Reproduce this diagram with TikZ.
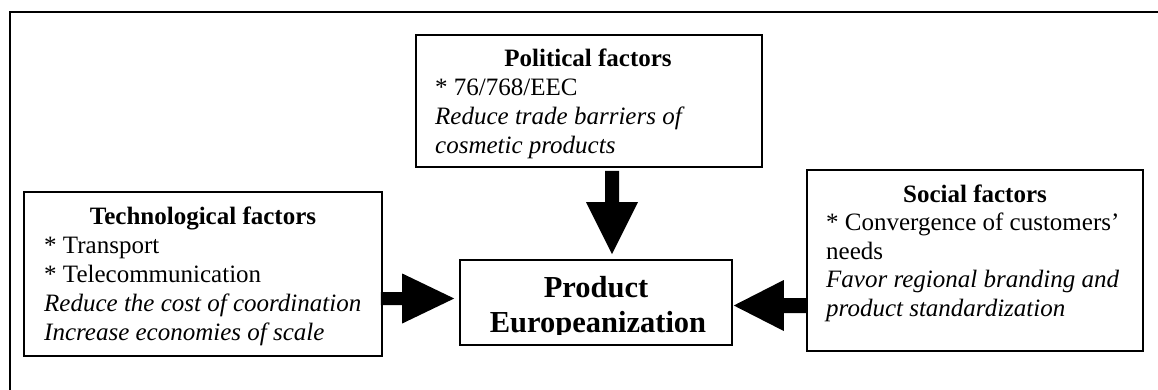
\documentclass[tikz,border=0pt]{standalone}
\usepackage{fontspec}
\setmainfont{Liberation Serif}
\usetikzlibrary{calc}

% Block arrow: #1 tail, #2 tip, #3 shaft half width, #4 head half width, #5 head length
\newcommand\fatarrow[5]{%
  \coordinate (fa-t) at (#1);
  \coordinate (fa-h) at (#2);
  \coordinate (fa-b) at ($(fa-h)!#5!(fa-t)$);
  \fill ($(fa-t)!#3!90:(fa-h)$) -- ($(fa-b)!#3!-90:(fa-t)$) -- ($(fa-b)!#4!-90:(fa-t)$)
    -- (fa-h) -- ($(fa-b)!#4!90:(fa-t)$) -- ($(fa-b)!#3!90:(fa-t)$)
    -- ($(fa-t)!#3!-90:(fa-h)$) -- cycle;
}

\tikzset{
  box/.style={draw, line width=1.6pt, rectangle, inner sep=0pt},
  body/.style={inner sep=0pt, anchor=base west, font=\fontsize{25}{29}\selectfont},
  head/.style={inner sep=0pt, anchor=base, font=\fontsize{25}{29}\selectfont\bfseries},
  big/.style={inner sep=0pt, anchor=base, font=\fontsize{30.5}{35}\selectfont\bfseries},
}

\begin{document}
\begin{tikzpicture}[x=1pt,y=-1pt]
\useasboundingbox (0,0) rectangle (1158,390);
\fill[white] (0,0) rectangle (1158,390);

% frame lines
\draw[line width=1.6pt] (10,390) -- (10,12) -- (1158,12);

% boxes
\node[box, minimum width=358pt, minimum height=164pt] (tech) at (203,274) {};
\node[box, minimum width=346pt, minimum height=132pt] (pol) at (589,101) {};
\node[box, minimum width=272pt, minimum height=85pt] (ctr) at (596,302.5) {};
\node[box, minimum width=336pt, minimum height=181pt] (soc) at (975,260.5) {};

% technological factors
\node[head] (techT) at (203,224) {Technological factors};
\node[body] (tech1) at (44,253) {* Transport};
\node[body] (tech2) at (44,282) {* Telecommunication};
\node[body] (tech3) at (44,311) {\itshape Reduce the cost of coordination};
\node[body] (tech4) at (44,340) {\itshape Increase economies of scale};

% political factors
\node[head] (polT) at (588,67) {Political factors};
\node[body] (pol1) at (435,96) {* 76/768/EEC};
\node[body] (pol2) at (435,125) {\itshape Reduce trade barriers of};
\node[body] (pol3) at (435,154) {\itshape cosmetic products};

% social factors
\node[head] (socT) at (975,202) {Social factors};
\node[body] (soc1) at (826,230.5) {* Convergence of customers’};
\node[body] (soc2) at (826,259) {needs};
\node[body] (soc3) at (826,287.5) {\itshape Favor regional branding and};
\node[body] (soc4) at (826,316) {\itshape product standardization};

% central box text, cut off at the lower edge
\begin{scope}
  \clip (ctr.north west) rectangle ($(ctr.south east)+(0,-11.5)$);
  \node[big] (ctr1) at (596,297) {Product};
  \node[big] (ctr2) at (598,332) {Europeanization};
\end{scope}

% arrows into the central box
\fatarrow{$(pol.south)+(23,3)$}{$(ctr.north)+(16,-5)$}{7pt}{26pt}{52pt}
\fatarrow{$(tech.east)+(-2,24.5)$}{$(ctr.west)+(-5,-4)$}{6.5pt}{25pt}{52pt}
\fatarrow{$(soc.west)+(0,45)$}{$(ctr.east)+(1,3)$}{7.5pt}{25.5pt}{50pt}
\end{tikzpicture}
\end{document}
